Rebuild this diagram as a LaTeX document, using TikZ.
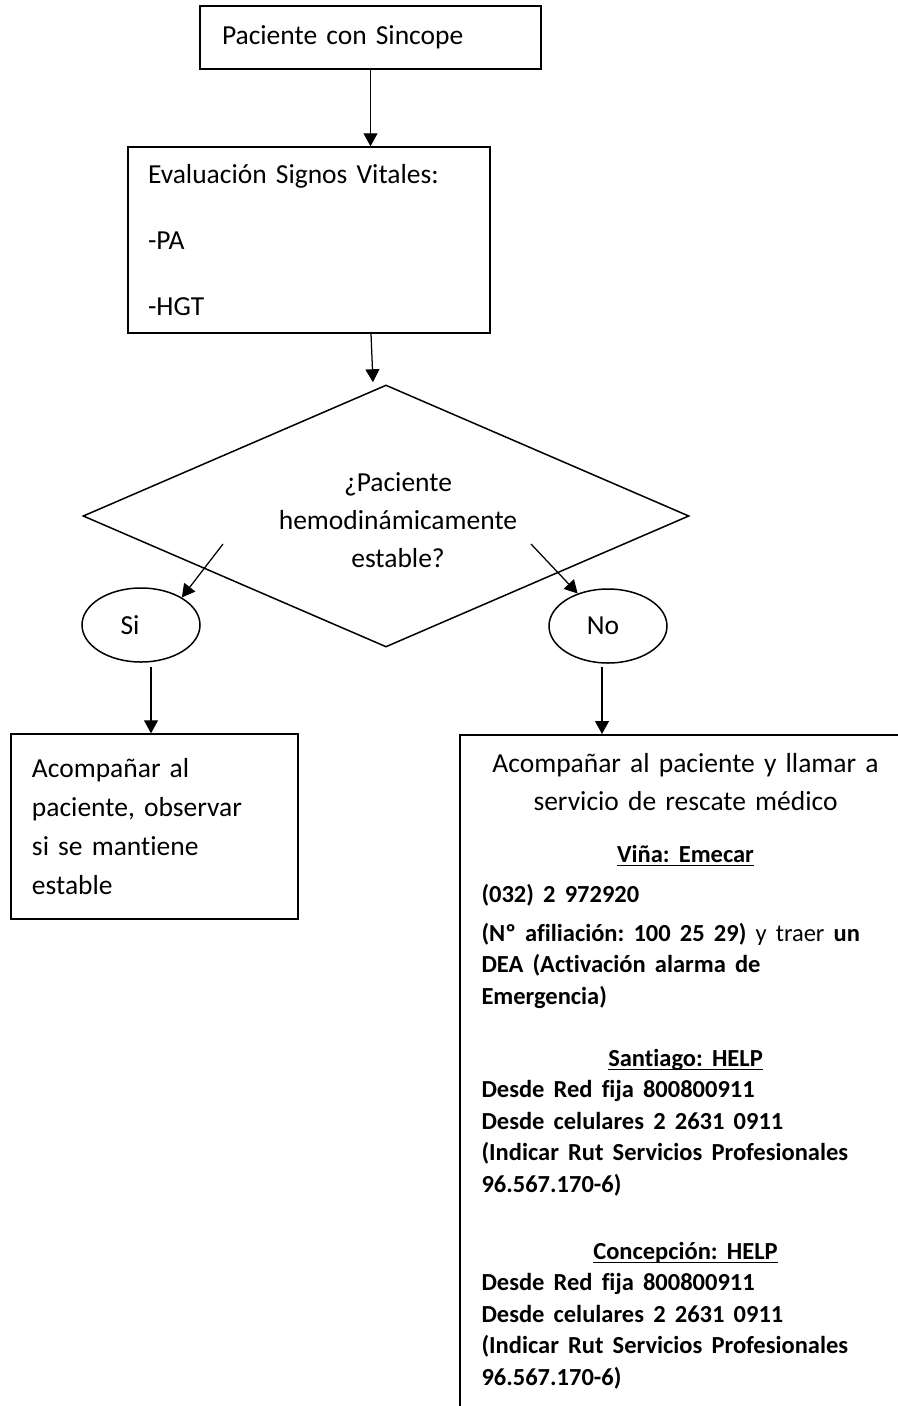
\documentclass[tikz,border=0pt]{standalone}
\usepackage{fontspec}
\setmainfont[Ligatures=NoCommon]{Carlito}
\usetikzlibrary{arrows.meta, shapes.geometric}
\setlength{\parindent}{0pt}
\frenchspacing
\newcommand{\ulin}[1]{\underline{\smash{#1}}}

\begin{document}
\begin{tikzpicture}[x=0.4pt, y=-0.4pt,
    box/.style = {draw, line width=0.6pt, rectangle, inner ysep=0pt, align=left, font=\fontsize{11}{15.6}\selectfont},
    oval/.style = {draw, ellipse, line width=0.6pt, inner sep=0pt, minimum width=47.2pt, minimum height=29.6pt, font=\fontsize{11}{13}\selectfont},
    arr/.style = {-{Triangle[length=5.2pt, width=5.6pt]}, line width=0.5pt}]
  \useasboundingbox (0,0) rectangle (898,1406);

  \node [box, minimum width=136.4pt, minimum height=25.2pt, inner xsep=8.8pt, text width=118.8pt] (start) at (370.5, 37.5) {Paciente con Sincope};
  \node [box, minimum width=144.8pt, minimum height=74.4pt, inner xsep=8pt, text width=128.8pt, font=\fontsize{11}{26.4}\selectfont] (vitals) at (309, 240) {Evaluación Signos Vitales:\\-PA\\-HGT};

  \node [draw, diamond, line width=0.6pt, inner sep=0pt, minimum width=242.4pt, minimum height=104.8pt] (decision) at (386, 516) {};
  \node [align=center, font=\fontsize{11}{15.2}\selectfont] (question) at (398, 520) {¿Paciente\\hemodinámicamente\\estable?};

  \node [oval] (si) at (141, 625) {Si\kern8.8pt};
  \node [oval] (no) at (608, 626) {No\kern4pt};

  \node [box, minimum width=114.8pt, minimum height=74pt, inner xsep=8.4pt, text width=98pt] (stay) at (154.5, 826.5) {Acompañar al\\paciente, observar\\si se mantiene\\estable};

  \node [box, anchor=north west, minimum width=200pt, minimum height=290pt] (rescue) at (459, 734) {};
  \node [anchor=north west, inner sep=0pt, text width=163.2pt, align=left, font=\fontsize{11}{15.2}\selectfont] (rescueinfo) at (481, 753) {%
    {\centering Acompañar al paciente y llamar a\\servicio de rescate médico\par}
    \vspace{8pt}
    {\fontsize{9.8}{12.6}\selectfont\bfseries
    {\centering\ulin{Viña: Emecar}\par}
    \vspace{3.4pt}
    (032) 2 972920\par
    \vspace{3pt}
    (Nº afiliación: 100 25 29) {\mdseries y traer} un\\
    DEA (Activación alarma de\\
    Emergencia)\par
    \vspace{12.2pt}
    {\centering\ulin{Santiago: HELP}\par}
    Desde Red fija 800800911\\
    Desde celulares 2 2631 0911\\
    (Indicar Rut Servicios Profesionales\\
    96.567.170-6)\par
    \vspace{14.2pt}
    {\centering\ulin{Concepción: HELP}\par}
    Desde Red fija 800800911\\
    Desde celulares 2 2631 0911\\
    (Indicar Rut Servicios Profesionales\\
    96.567.170-6)\par}};

  \coordinate (siFrom) at (223, 544);
  \coordinate (noFrom) at (531, 544);
  \coordinate (siFoot) at (151, 667);
  \coordinate (noFoot) at (602, 667);

  \draw [arr] (start.south) -- (start.south |- vitals.north);
  \draw [arr] ([xshift=24.8pt]vitals.south) -- ([xshift=-5.2pt, yshift=0.8pt]decision.north);
  \draw [arr] (siFrom) -- (si.34);
  \draw [arr] (noFrom) -- (no.133);
  \draw [arr] (siFoot) -- (siFoot |- stay.north);
  \draw [arr] (noFoot) -- (noFoot |- rescue.north);
\end{tikzpicture}
\end{document}
